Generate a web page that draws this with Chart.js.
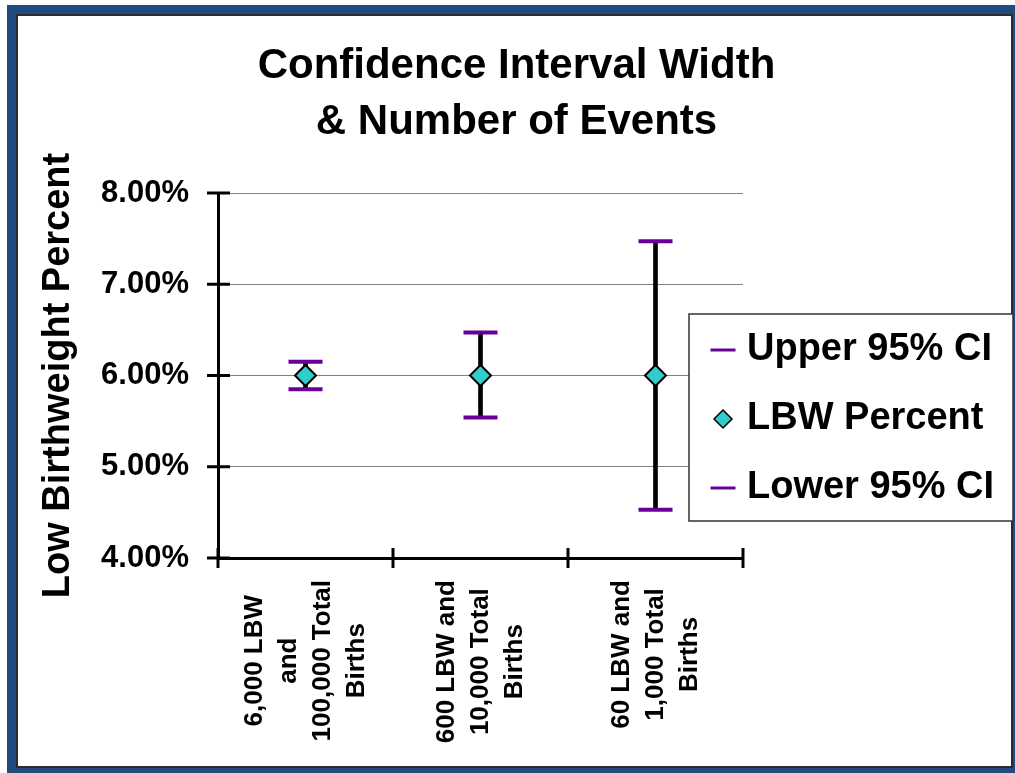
<!DOCTYPE html>
<html>
<head>
<meta charset="utf-8">
<title>Confidence Interval Width</title>
<script src="https://cdn.jsdelivr.net/npm/chart.js@4.4.0/dist/chart.umd.min.js"></script>
<style>
  html, body { margin: 0; padding: 0; background: #fff; overflow: hidden; }
  #frame {
    position: absolute; left: 7px; top: 5px; width: 1015px; height: 772px;
    box-sizing: border-box; border: 9px solid #224a7e;
    box-shadow: inset 0 0 0 2px #2b2b2b;
  }
  #wrap { position: absolute; left: 0; top: 0; width: 1015px; height: 773px; }
</style>
</head>
<body>
<div id="frame"></div>
<div id="wrap"><canvas id="ci-chart" width="1015" height="773"></canvas></div>
<script>
// DATA
const categories = [
  ["6,000 LBW", "and", "100,000 Total", "Births"],
  ["600 LBW and", "10,000 Total", "Births"],
  ["60 LBW and", "1,000 Total", "Births"]
];
const upperCI = [6.15, 6.47, 7.47];
const lbwPercent = [6.00, 6.00, 6.00];
const lowerCI = [5.85, 5.54, 4.53];
const yTicks = [4, 5, 6, 7, 8];

const FONT = '"Liberation Sans", Arial, sans-serif';
Chart.defaults.font.family = FONT;
Chart.defaults.color = "#000";

const purple = "#660099";
const teal = "#33cccc";

// axis tick marks crossing the axes + rotated category labels
const axisMarks = {
  id: "axisMarks",
  afterDatasetsDraw(chart) {
    const ctx = chart.ctx;
    const area = chart.chartArea;
    const xs = chart.scales.x;
    const ys = chart.scales.y;
    ctx.save();
    ctx.strokeStyle = "#000";
    ctx.lineWidth = 3;
    ys.ticks.forEach(t => {
      const y = ys.getPixelForValue(t.value);
      ctx.beginPath();
      ctx.moveTo(area.left - 11, y);
      ctx.lineTo(area.left + 12, y);
      ctx.stroke();
    });
    for (let i = 0; i <= chart.data.labels.length; i++) {
      const x = xs.getPixelForValue(i - 0.5);
      ctx.beginPath();
      ctx.moveTo(x, area.bottom - 10);
      ctx.lineTo(x, area.bottom + 10);
      ctx.stroke();
    }

    // category labels, read bottom to top, lines centred
    ctx.fillStyle = "#000";
    ctx.font = "bold 26px " + FONT;
    ctx.textAlign = "center";
    ctx.textBaseline = "middle";
    chart.data.labels.forEach((lines, i) => {
      const cx = xs.getPixelForValue(i);
      const maxW = Math.max(...lines.map(l => ctx.measureText(l).width));
      const cy = area.bottom + 22 + maxW / 2;
      ctx.save();
      ctx.translate(cx, cy);
      ctx.rotate(-Math.PI / 2);
      lines.forEach((l, j) => ctx.fillText(l, 0, (j - (lines.length - 1) / 2) * 34));
      ctx.restore();
    });
    ctx.restore();
  }
};

// legend box sitting over the right of the plot
const boxLegend = {
  id: "boxLegend",
  afterDraw(chart) {
    const ctx = chart.ctx;
    const box = { left: 689, top: 314, right: 1013, bottom: 521 };
    ctx.save();
    ctx.fillStyle = "#fff";
    ctx.fillRect(box.left, box.top, box.right - box.left, box.bottom - box.top);
    ctx.strokeStyle = "#333";
    ctx.lineWidth = 1.5;
    ctx.strokeRect(box.left, box.top, box.right - box.left, box.bottom - box.top);

    const items = chart.data.datasets.filter(d => d.type === "line");
    items.forEach((ds, i) => {
      const y = 350 + i * 69;
      const mx = 723;
      if (ds.pointStyle === "line") {
        ctx.strokeStyle = ds.pointBorderColor;
        ctx.lineWidth = 3;
        ctx.beginPath();
        ctx.moveTo(mx - 12.5, y);
        ctx.lineTo(mx + 12.5, y);
        ctx.stroke();
      } else {
        const r = 9;
        ctx.fillStyle = ds.pointBackgroundColor;
        ctx.strokeStyle = ds.pointBorderColor;
        ctx.lineWidth = 1.5;
        ctx.beginPath();
        ctx.moveTo(mx - r, y);
        ctx.lineTo(mx, y - r);
        ctx.lineTo(mx + r, y);
        ctx.lineTo(mx, y + r);
        ctx.closePath();
        ctx.fill();
        ctx.stroke();
      }
      ctx.fillStyle = "#000";
      ctx.font = "bold 38px " + FONT;
      ctx.textAlign = "left";
      ctx.textBaseline = "middle";
      ctx.fillText(ds.label, 747, y);
    });
    ctx.restore();
  }
};

const ctx = document.getElementById("ci-chart").getContext("2d");

const config = {
  type: "bar",
  data: {
    labels: categories,
    datasets: [
      {
        type: "line",
        label: "Upper 95% CI",
        data: upperCI,
        showLine: false,
        pointStyle: "line",
        pointRadius: 17,
        pointBorderWidth: 4,
        pointBorderColor: purple,
        pointBackgroundColor: purple,
        order: 1
      },
      {
        type: "line",
        label: "LBW Percent",
        data: lbwPercent,
        showLine: false,
        pointStyle: "rectRot",
        pointRadius: 10.5,
        pointBorderWidth: 2,
        pointBorderColor: "#000",
        pointBackgroundColor: teal,
        order: 0
      },
      {
        type: "line",
        label: "Lower 95% CI",
        data: lowerCI,
        showLine: false,
        pointStyle: "line",
        pointRadius: 17,
        pointBorderWidth: 4,
        pointBorderColor: purple,
        pointBackgroundColor: purple,
        order: 1
      },
      {
        type: "bar",
        label: "range",
        data: lowerCI.map((lo, i) => [lo, upperCI[i]]),
        backgroundColor: "#000",
        barThickness: 4,
        order: 5
      }
    ]
  },
  options: {
    responsive: false,
    animation: false,
    events: [],
    layout: { padding: { left: 18, right: 0, top: 0, bottom: 0 } },
    plugins: {
      legend: { display: false },
      tooltip: { enabled: false },
      title: {
        display: true,
        text: ["Confidence Interval Width", "& Number of Events"],
        color: "#000",
        font: { size: 42, weight: "bold", lineHeight: 56 / 42 },
        padding: { top: 38, bottom: 43 }
      }
    },
    scales: {
      x: {
        type: "category",
        offset: true,
        grid: { display: false },
        border: { display: true, color: "#000", width: 3 },
        ticks: { display: false },
        afterFit: s => { s.height = 215; }
      },
      y: {
        type: "linear",
        position: "left",
        min: 4,
        max: 8,
        afterBuildTicks: s => { s.ticks = yTicks.map(v => ({ value: v })); },
        ticks: {
          padding: 29,
          color: "#000",
          font: { size: 31, weight: "bold" },
          callback: v => v.toFixed(2) + "%"
        },
        grid: { color: "#808080", lineWidth: 1, drawTicks: false },
        border: { color: "#000", width: 3 },
        title: {
          display: true,
          text: "Low Birthweight Percent",
          color: "#000",
          font: { size: 38, weight: "bold" },
          padding: { top: 18, bottom: 0 }
        },
        afterFit: s => { s.width = 200; }
      },
      y2: {
        type: "linear",
        position: "right",
        display: true,
        grid: { display: false },
        border: { display: false },
        ticks: { display: false },
        afterFit: s => { s.width = 272; }
      }
    }
  },
  plugins: [axisMarks, boxLegend]
};

const myChart = new Chart(ctx, config);
</script>
</body>
</html>
